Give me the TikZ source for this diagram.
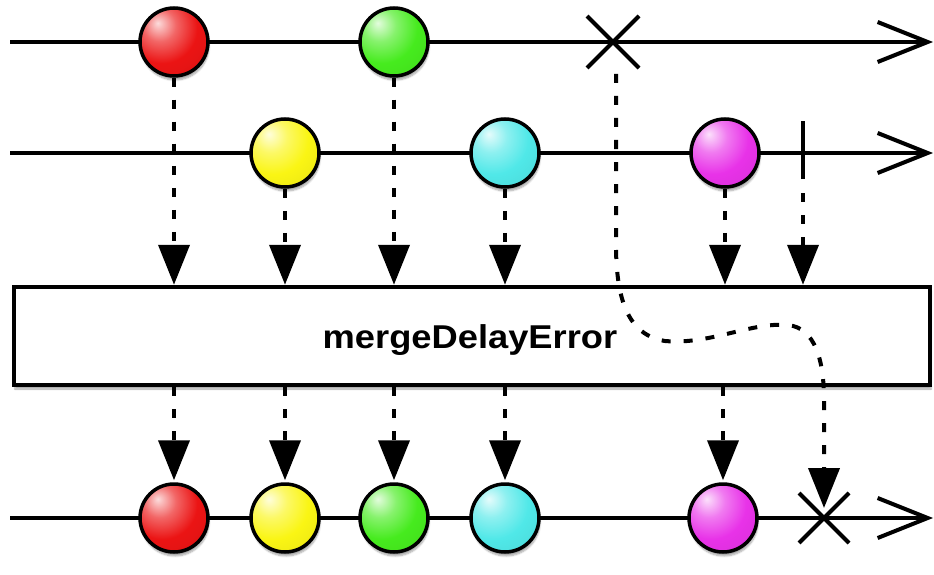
\documentclass[tikz,border=0pt]{standalone}
\usepackage{fontspec}
\setsansfont{Liberation Sans}
\newfontfamily\boxfont[FakeStretch=1.1]{Liberation Sans}
\usetikzlibrary{arrows.meta,shadows.blur}
\definecolor{cRed}{RGB}{235,20,20}
\definecolor{cGreen}{RGB}{70,235,30}
\definecolor{cYellow}{RGB}{250,245,20}
\definecolor{cCyan}{RGB}{80,232,232}
\definecolor{cMag}{RGB}{232,50,232}
\colorlet{ballc}{red}
\pgfdeclareradialshading[ballc]{glossball}{\pgfpoint{-12bp}{14bp}}{%
 color(0bp)=(ballc!15!white); color(12bp)=(ballc!65!white); color(26bp)=(ballc); color(45bp)=(ballc!93!black); color(62bp)=(ballc!78!black); color(100bp)=(ballc!78!black)}
\tikzset{
  tline/.style={line width=4pt, -{Straight Barb[length=50pt,width=40pt]}},
  mball/.style={circle, draw, line width=3.5pt, minimum size=68pt, inner sep=0pt,
    /utils/exec={\colorlet{ballc}{#1}}, shading=glossball,
    blur shadow={shadow xshift=1pt, shadow yshift=-4pt, shadow opacity=35, shadow blur steps=6}},
  flow/.style={line width=4pt, dash pattern=on 9pt off 13pt, -{Triangle[length=40pt,width=31pt]}},
  xmk/.style={line width=4pt},
}
\begin{document}
\begin{tikzpicture}[x=1pt,y=-1pt]
\useasboundingbox (0,0) rectangle (934,575);
% timeline end points
\coordinate (s1) at (10,42);  \coordinate (e1) at (933,42);
\coordinate (s2) at (10,153); \coordinate (e2) at (933,153);
\coordinate (s3) at (10,518); \coordinate (e3) at (933,518);
\draw[tline] (s1) -- (e1);
\draw[tline] (s2) -- (e2);
\draw[tline] (s3) -- (e3);
% operator box
\node[draw, line width=4.5pt, fill=white, minimum width=916pt, minimum height=98pt,
  blur shadow={shadow xshift=1pt, shadow yshift=-4pt, shadow opacity=35, shadow blur steps=6}]
  (box) at (472,336) {};
\node[font=\boxfont\bfseries\fontsize{33}{38}\selectfont] (lbl) at (470,340) {mergeDelayError};
% first source
\node[mball=cRed]   (a1) at (174,42) {};
\node[mball=cGreen] (a2) at (394,42) {};
\coordinate (ax) at (613,42);
\draw[xmk] ([shift={(-26,-26)}]ax) -- ([shift={(26,26)}]ax);
\draw[xmk] ([shift={(-26,26)}]ax) -- ([shift={(26,-26)}]ax);
% second source
\node[mball=cYellow] (b1) at (285,153) {};
\node[mball=cCyan]   (b2) at (505,153) {};
\node[mball=cMag]    (b3) at (725,153) {};
\coordinate (bt) at (803,153);
\draw[xmk] ([yshift=-26]bt) -- ([yshift=32]bt);
% result
\node[mball=cRed]    (c1) at (174,518) {};
\node[mball=cYellow] (c2) at (285,518) {};
\node[mball=cGreen]  (c3) at (394,518) {};
\node[mball=cCyan]   (c4) at (505,518) {};
\node[mball=cMag]    (c5) at (723,518) {};
\coordinate (cx) at (824,518);
\draw[xmk] ([shift={(-25,-25)}]cx) -- ([shift={(25,25)}]cx);
\draw[xmk] ([shift={(-25,25)}]cx) -- ([shift={(25,-25)}]cx);
% flows into the box
\draw[flow] (a1.south) -- (a1.south |- box.north);
\draw[flow] (a2.south) -- (a2.south |- box.north);
\draw[flow] (b1.south) -- (b1.south |- box.north);
\draw[flow] (b2.south) -- (b2.south |- box.north);
\draw[flow] (b3.south) -- (b3.south |- box.north);
\coordinate (btb) at (803,193);
\draw[flow] (btb) -- (btb |- box.north);
% flows out of the box
\draw[flow, shorten >=2pt] (box.south -| c1) -- (c1.north);
\draw[flow, shorten >=2pt] (box.south -| c2) -- (c2.north);
\draw[flow, shorten >=2pt] (box.south -| c3) -- (c3.north);
\draw[flow, shorten >=2pt] (box.south -| c4) -- (c4.north);
\draw[flow, shorten >=2pt] (box.south -| c5) -- (c5.north);
% error path
\coordinate (axs) at (616,74);
\draw[flow, shorten >=10pt] (axs) -- (616,250)
  .. controls (617,300) and (628,335) .. (665,341)
  .. controls (710,345) and (750,322) .. (788,325)
  .. controls (815,328) and (824,360) .. (824,400) -- (cx);
\end{tikzpicture}
\end{document}
